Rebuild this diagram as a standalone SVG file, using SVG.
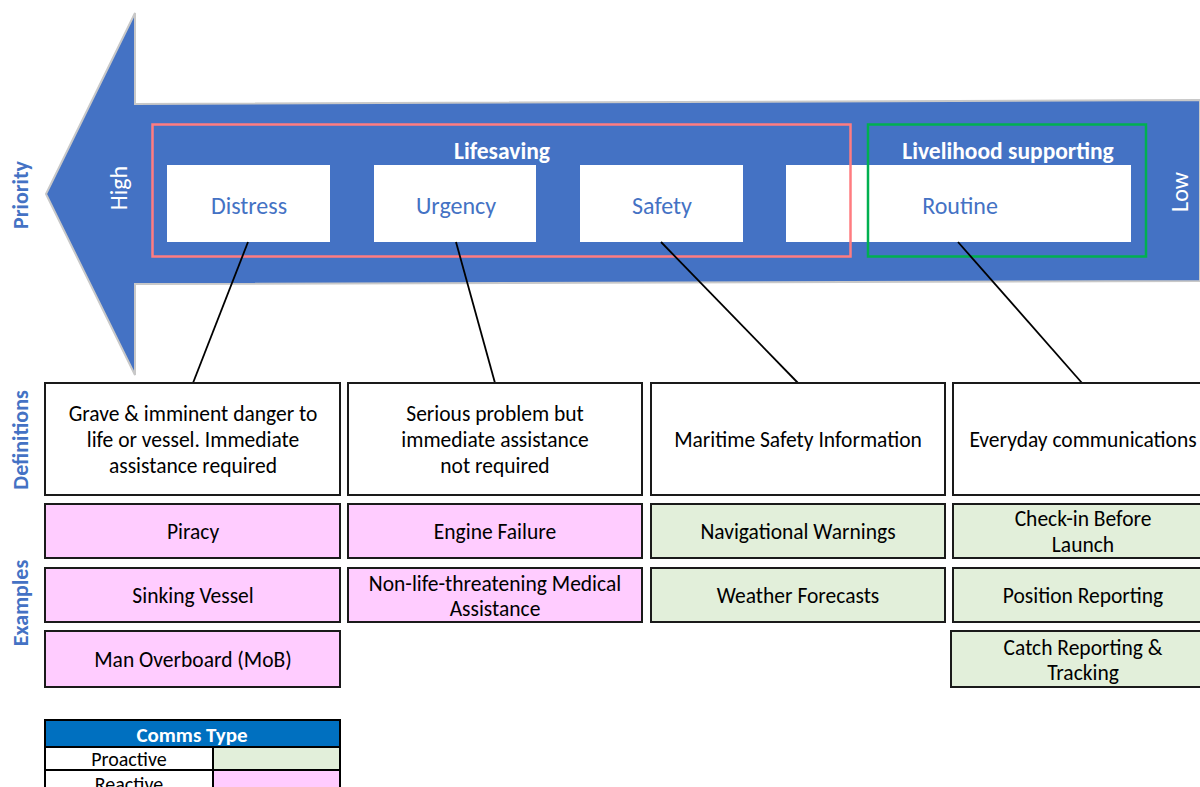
<svg xmlns="http://www.w3.org/2000/svg" width="1200" height="787" viewBox="0 0 1200 787">
  <style>
    text { font-family: Carlito, Lato, "Liberation Sans", sans-serif; text-anchor: middle; dominant-baseline: central; }
    .axis { fill: #4472C4; font-weight: bold; font-size: 22px; }
    .band { fill: #ffffff; font-size: 24px; }
    .group { fill: #ffffff; font-weight: bold; font-size: 23.5px; }
    .level { fill: #4472C4; font-size: 24px; }
    .def { fill: #000000; font-size: 21.5px; }
    .cell { stroke: #1a1a1a; stroke-width: 2; }
    .white { fill: #ffffff; }
    .pink { fill: #FFCCFF; }
    .green { fill: #E2EFDA; }
    .slot { fill: #ffffff; }
    .conn { stroke: #000000; stroke-width: 1.8; fill: none; }
    .legend { fill: #000000; font-size: 20px; }
  </style>

  <rect x="0" y="0" width="1200" height="787" fill="#ffffff"/>

  <!-- priority arrow pointing left -->
  <g id="priority-arrow">
    <polygon points="46,194 135,13 135,104 1200,100 1200,281 135,284 135,375" fill="#4472C4" stroke="#C8C8C8" stroke-width="2" stroke-linejoin="miter"/>
    <text class="band" transform="translate(118,188) rotate(-90)">High</text>
    <text class="band" transform="translate(1179,192) rotate(-90)">Low</text>
  </g>

  <!-- axis labels -->
  <g id="axis-labels">
    <text class="axis" transform="translate(20,195) rotate(-90)">Priority</text>
    <text class="axis" transform="translate(20,440) rotate(-90)">Definitions</text>
    <text class="axis" transform="translate(20,603) rotate(-90)">Examples</text>
  </g>

  <!-- priority levels -->
  <g id="distress">
    <rect class="slot" x="167" y="165" width="163" height="77"/>
    <text class="level" x="249" y="205">Distress</text>
  </g>
  <g id="urgency">
    <rect class="slot" x="374" y="165" width="162" height="77"/>
    <text class="level" x="456" y="205">Urgency</text>
  </g>
  <g id="safety">
    <rect class="slot" x="580" y="165" width="163" height="77"/>
    <text class="level" x="662" y="205">Safety</text>
  </g>
  <g id="routine">
    <rect class="slot" x="786" y="165" width="345" height="77"/>
    <text class="level" x="960" y="205">Routine</text>
  </g>

  <!-- grouping frames -->
  <g id="lifesaving">
    <rect x="152.5" y="124.5" width="698" height="132" fill="none" stroke="#FF7C80" stroke-width="2.5"/>
    <text class="group" x="502" y="151">Lifesaving</text>
  </g>
  <g id="livelihood">
    <rect x="868" y="124.5" width="278" height="132" fill="none" stroke="#00B050" stroke-width="2.5"/>
    <text class="group" x="1008" y="151">Livelihood supporting</text>
  </g>

  <!-- connectors from levels to definitions -->
  <g id="connectors">
    <line class="conn" x1="248" y1="242" x2="193" y2="383"/>
    <line class="conn" x1="456" y1="242" x2="495" y2="383"/>
    <line class="conn" x1="661" y1="242" x2="798" y2="383"/>
    <line class="conn" x1="958" y1="242" x2="1082" y2="383"/>
  </g>

  <!-- definitions -->
  <g id="def-distress">
    <rect class="cell white" x="45" y="383" width="295" height="112"/>
    <text class="def" x="193" y="414">Grave &amp; imminent danger to</text>
    <text class="def" x="193" y="440">life or vessel. Immediate</text>
    <text class="def" x="193" y="466">assistance required</text>
  </g>
  <g id="def-urgency">
    <rect class="cell white" x="348" y="383" width="294" height="112"/>
    <text class="def" x="495" y="414">Serious problem but</text>
    <text class="def" x="495" y="440">immediate assistance</text>
    <text class="def" x="495" y="466">not required</text>
  </g>
  <g id="def-safety">
    <rect class="cell white" x="651" y="383" width="294" height="112"/>
    <text class="def" x="798" y="440">Maritime Safety Information</text>
  </g>
  <g id="def-routine">
    <rect class="cell white" x="953" y="383" width="260" height="112"/>
    <text class="def" x="1083" y="440">Everyday communications</text>
  </g>

  <!-- examples: distress -->
  <g id="ex-piracy">
    <rect class="cell pink" x="45" y="504" width="295" height="54"/>
    <text class="def" x="193" y="532">Piracy</text>
  </g>
  <g id="ex-sinking">
    <rect class="cell pink" x="45" y="568" width="295" height="54"/>
    <text class="def" x="193" y="596">Sinking Vessel</text>
  </g>
  <g id="ex-mob">
    <rect class="cell pink" x="45" y="631" width="295" height="56"/>
    <text class="def" x="193" y="660">Man Overboard (MoB)</text>
  </g>

  <!-- examples: urgency -->
  <g id="ex-engine">
    <rect class="cell pink" x="348" y="504" width="294" height="54"/>
    <text class="def" x="495" y="532">Engine Failure</text>
  </g>
  <g id="ex-medical">
    <rect class="cell pink" x="348" y="568" width="294" height="54"/>
    <text class="def" x="495" y="584">Non-life-threatening Medical</text>
    <text class="def" x="495" y="609">Assistance</text>
  </g>

  <!-- examples: safety -->
  <g id="ex-navwarn">
    <rect class="cell green" x="651" y="504" width="294" height="54"/>
    <text class="def" x="798" y="532">Navigational Warnings</text>
  </g>
  <g id="ex-weather">
    <rect class="cell green" x="651" y="568" width="294" height="54"/>
    <text class="def" x="798" y="596">Weather Forecasts</text>
  </g>

  <!-- examples: routine -->
  <g id="ex-checkin">
    <rect class="cell green" x="953" y="504" width="260" height="54"/>
    <text class="def" x="1083" y="519">Check-in Before</text>
    <text class="def" x="1083" y="545">Launch</text>
  </g>
  <g id="ex-position">
    <rect class="cell green" x="953" y="568" width="260" height="54"/>
    <text class="def" x="1083" y="596">Position Reporting</text>
  </g>
  <g id="ex-catch">
    <rect class="cell green" x="951" y="631" width="262" height="56"/>
    <text class="def" x="1083" y="648">Catch Reporting &amp;</text>
    <text class="def" x="1083" y="673">Tracking</text>
  </g>

  <!-- legend -->
  <g id="legend">
    <rect x="45" y="720" width="295" height="27" fill="#0070C0" stroke="#000000" stroke-width="2"/>
    <text x="192" y="735" fill="#ffffff" font-weight="bold" font-size="21">Comms Type</text>
    <rect x="45" y="747" width="168" height="23" fill="#ffffff" stroke="#000000" stroke-width="2"/>
    <rect x="213" y="747" width="127" height="23" fill="#E2EFDA" stroke="#000000" stroke-width="2"/>
    <text class="legend" x="129" y="759">Proactive</text>
    <rect x="45" y="770" width="168" height="23" fill="#ffffff" stroke="#000000" stroke-width="2"/>
    <rect x="213" y="770" width="127" height="23" fill="#FFCCFF" stroke="#000000" stroke-width="2"/>
    <text class="legend" x="129" y="784">Reactive</text>
  </g>
</svg>
